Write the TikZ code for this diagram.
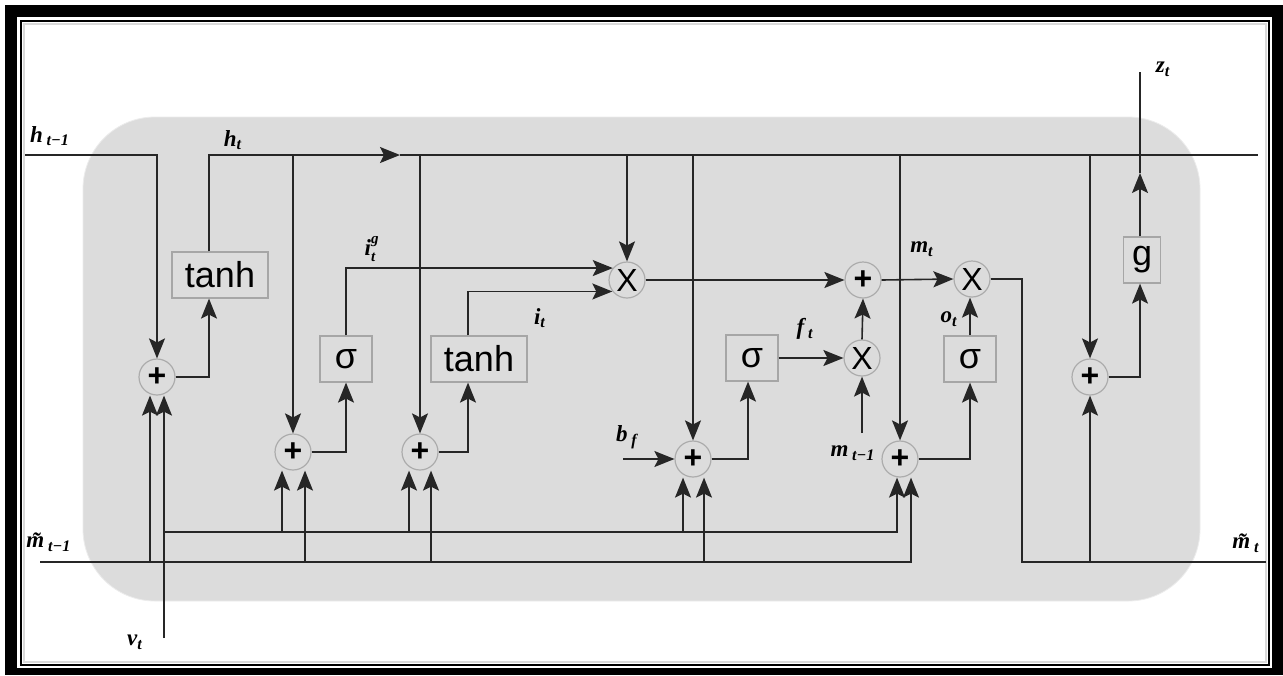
\documentclass[tikz,border=0pt]{standalone}
\usepackage{fontspec}
\setmainfont{Liberation Serif}
\newfontfamily\opfont{Liberation Sans}
\usetikzlibrary{arrows.meta, positioning, calc}
\definecolor{cellgray}{HTML}{DCDCDC}

\begin{document}
\begin{tikzpicture}[
        x=0.5pt, y=-0.5pt,
        op/.style={circle, draw=gray!65, fill=cellgray, line width=0.6pt, minimum size=18pt, inner sep=0pt, font=\opfont\fontsize{16}{16}\selectfont},
        gate/.style={rectangle, draw=gray!70, fill=cellgray, line width=0.6pt, minimum height=23pt, inner sep=0pt, font=\opfont\fontsize{18}{18}\selectfont},
        wire/.style={draw=black!85, line width=0.8pt},
        arr/.style={wire, -{Stealth[length=10pt, width=8pt, inset=2pt]}},
        lbl/.style={font=\fontsize{11.5}{11.5}\selectfont\bfseries\itshape, inner sep=0pt}
    ]
        \useasboundingbox (0,0) rectangle (1283,675);
        \fill[black] (5,5) rectangle (1283,675);
        \fill[white] (17,17) rectangle (1272,668);
        \draw[black, line width=1pt] (21,21) rectangle (1269,665);
        \draw[gray!30, line width=1pt] (24,24) rectangle (1266,662);
        \draw[draw=gray!15, fill=cellgray, rounded corners=36pt] (83,117) rectangle (1200,601);

        \coordinate (hin) at (25,155);
        \coordinate (hmid) at (400,155);
        \coordinate (hout) at (1258,155);
        \coordinate (mbin) at (40,562);
        \coordinate (mbout) at (1266,562);
        \coordinate (vin) at (164,638);
        \coordinate (vbus) at (164,532);
        \coordinate (bin) at (623,459);
        \coordinate (cin) at (862,433);
        \coordinate (mtturn) at (1022,562);
        \coordinate (zmid) at (1140,173);
        \coordinate (zout) at (1140,72);

        \node[gate, minimum width=48pt] (tanhA) at (220,275) {tanh};
        \node[op] (addA) at (157,377) {\bfseries +};
        \node[op] (addB) at (293,452) {\bfseries +};
        \node[gate, minimum width=26pt] (sigI) at (346,359) {σ};
        \node[op] (addC) at (420,452) {\bfseries +};
        \node[gate, minimum width=48pt] (tanhB) at (479,359) {tanh};
        \node[op] (mulA) at (627,280) {X};
        \node[op] (addD) at (693,459) {\bfseries +};
        \node[gate, minimum width=26pt] (sigF) at (752,358) {σ};
        \node[op] (mulF) at (862,358) {X};
        \node[op] (addM) at (863,280) {\bfseries +};
        \node[op] (addE) at (900,459) {\bfseries +};
        \node[gate, minimum width=26pt] (sigO) at (970,359) {σ};
        \node[op] (mulO) at (972,279) {X};
        \node[op] (addZ) at (1090,377) {\bfseries +};
        \node[gate, minimum width=18.5pt] (gbox) at (1142,260) {g};

        \draw[arr] (hin) -| (addA.north);
        \draw[arr] (addA.east) -| ([xshift=-5.5pt]tanhA.south);
        \draw[arr] ([xshift=-5.5pt]tanhA.north) |- (hmid);
        \draw[wire] (hmid) -- (hout);
        \draw[arr] (addB.north |- hmid) -- (addB.north);
        \draw[arr] (addC.north |- hmid) -- (addC.north);
        \draw[arr] (mulA.north |- hmid) -- (mulA.north);
        \draw[arr] (addD.north |- hmid) -- (addD.north);
        \draw[arr] (addE.north |- hmid) -- (addE.north);
        \draw[arr] (addZ.north |- hmid) -- (addZ.north);

        \draw[arr] (vin) -- ([xshift=3.5pt]addA.south);
        \draw[arr] ([xshift=-3.5pt]addA.south |- mbin) -- ([xshift=-3.5pt]addA.south);
        \draw[arr] (mbin) -| ([xshift=5.5pt]addE.south);
        \draw[arr] (vbus) -| ([xshift=-1.5pt]addE.south);
        \draw[arr] ([xshift=-5.5pt]addB.south |- vbus) -- ([xshift=-5.5pt]addB.south);
        \draw[arr] ([xshift=6pt]addB.south |- mbin) -- ([xshift=6pt]addB.south);
        \draw[arr] ([xshift=-5.5pt]addC.south |- vbus) -- ([xshift=-5.5pt]addC.south);
        \draw[arr] ([xshift=5.5pt]addC.south |- mbin) -- ([xshift=5.5pt]addC.south);
        \draw[arr] ([xshift=-5pt]addD.south |- vbus) -- ([xshift=-5pt]addD.south);
        \draw[arr] ([xshift=5.5pt]addD.south |- mbin) -- ([xshift=5.5pt]addD.south);

        \draw[arr] (addB.east) -| (sigI.south);
        \draw[arr] (sigI.north) |- (mulA.140);
        \draw[arr] (addC.east) -| ([xshift=-5.5pt]tanhB.south);
        \draw[arr] ([xshift=-5.5pt]tanhB.north) |- (mulA.218);
        \draw[arr] (mulA.east) -- (addM.west);
        \draw[arr] (bin) -- (addD.west);
        \draw[arr] (addD.east) -| ([xshift=-2pt]sigF.south);
        \draw[arr] (sigF.east) -- (mulF.west);
        \draw[arr] (mulF.north) -- (addM.south);
        \draw[arr] (cin) -- (mulF.south);
        \draw[arr] (addE.east) -| (sigO.south);
        \draw[arr] (sigO.north) -- (mulO.south -| sigO.north);
        \draw[arr] (addM.east) -- (mulO.west);
        \draw[wire] (mulO.east) -| (mtturn) -- (mbout);
        \draw[arr] (addZ.south |- mbout) -- (addZ.south);
        \draw[arr] (addZ.east) -| ([xshift=-1pt]gbox.south);
        \draw[arr] ([xshift=-1pt]gbox.north) -- (zmid);
        \draw[wire] (zmid) -- (zout);

        \node[lbl] (lhprev) at (50,136) {h\,\textsubscript{t−1}};
        \node[lbl] (lhcur) at (233,140) {h\textsubscript{t}};
        \node[lbl] (lig) at (370,249) {i\rlap{\raisebox{1.1ex}{\fontsize{7.5}{7.5}\selectfont g}}\raisebox{-0.6ex}{\fontsize{7.5}{7.5}\selectfont t}};
        \node[lbl] (lit) at (540,318) {i\textsubscript{t}};
        \node[lbl] (lbf) at (627,437) {b\,\textsubscript{f}};
        \node[lbl] (lft) at (805,329) {f\,\textsubscript{t}};
        \node[lbl] (lmt) at (922,249) {m\textsubscript{t}};
        \node[lbl] (lot) at (949,319) {o\textsubscript{t}};
        \node[lbl] (lmprev) at (853,453) {m\,\textsubscript{t−1}};
        \node[lbl] (lzt) at (1163,69) {z\textsubscript{t}};
        \node[lbl] (lmtil) at (1246,543) {\~{m}\,\textsubscript{t}};
        \node[lbl] (lmtilprev) at (49,542) {\~{m}\,\textsubscript{t−1}};
        \node[lbl] (lvt) at (135,642) {v\textsubscript{t}};
\end{tikzpicture}
\end{document}
